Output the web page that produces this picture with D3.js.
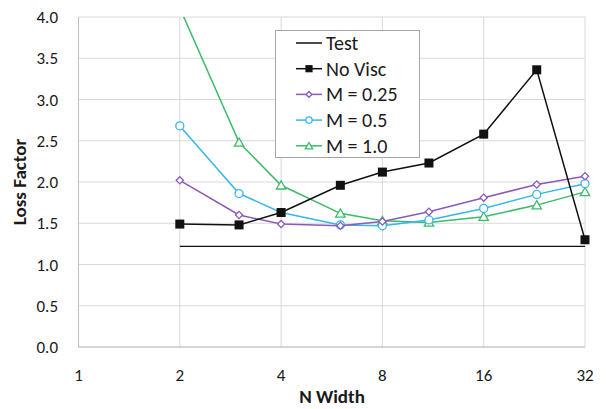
<!DOCTYPE html>
<html>
<head>
<meta charset="utf-8">
<script src="https://cdn.jsdelivr.net/npm/d3@7"></script>
<style>
  body { margin: 0; background: #fff; }
  svg text { font-family: Carlito, Lato, "Open Sans", sans-serif; fill: #1a1a1a; }
</style>
</head>
<body>
<div id="chart"></div>
<script>
// N width values where simulations were run
const nWidth = [2, 3, 4, 6, 8, 11, 16, 23, 32];
const testVal = [1.22, 1.22];
const testX = [2, 32];
const noVisc = [1.49, 1.48, 1.63, 1.96, 2.12, 2.23, 2.58, 3.36, 1.30];
const m025 = [2.02, 1.60, 1.49, 1.47, 1.52, 1.64, 1.81, 1.97, 2.07];
const m05 = [2.68, 1.86, 1.63, 1.48, 1.47, 1.54, 1.68, 1.85, 1.98];
const m10 = [4.11, 2.48, 1.96, 1.62, 1.53, 1.51, 1.58, 1.72, 1.88];
const xTicks = [1, 2, 4, 8, 16, 32];
const yTicks = [0, 0.5, 1, 1.5, 2, 2.5, 3, 3.5, 4];

const width = 606, height = 409;
const margin = { top: 17, right: 21, bottom: 62, left: 78.5 };

const svg = d3.select("#chart").append("svg")
    .attr("width", width)
    .attr("height", height);

const x = d3.scaleLog().base(2).domain([1, 32]).range([margin.left, width - margin.right]);
const y = d3.scaleLinear().domain([0, 4]).range([height - margin.bottom, margin.top]);

// grid
svg.append("g").selectAll("line").data(yTicks).enter().append("line")
    .attr("x1", x(1)).attr("x2", x(32))
    .attr("y1", d => y(d)).attr("y2", d => y(d))
    .attr("stroke", "#d9d9d9").attr("stroke-width", 1);
svg.append("g").selectAll("line").data(xTicks).enter().append("line")
    .attr("x1", d => x(d)).attr("x2", d => x(d))
    .attr("y1", y(0)).attr("y2", y(4))
    .attr("stroke", "#d9d9d9").attr("stroke-width", 1);

// axes lines
svg.append("line").attr("x1", x(1)).attr("x2", x(1)).attr("y1", y(0)).attr("y2", y(4))
    .attr("stroke", "#bfbfbf");
svg.append("line").attr("x1", x(1)).attr("x2", x(32)).attr("y1", y(0)).attr("y2", y(0))
    .attr("stroke", "#bfbfbf");

// tick labels
svg.append("g").selectAll("text").data(yTicks).enter().append("text")
    .attr("x", 58).attr("y", d => y(d) + 6)
    .attr("text-anchor", "end")
    .style("font-size", "17px")
    .text(d => d.toFixed(1));
svg.append("g").selectAll("text").data(xTicks).enter().append("text")
    .attr("x", d => x(d)).attr("y", 381)
    .attr("text-anchor", "middle")
    .style("font-size", "17px")
    .text(d => d);

// axis titles
svg.append("text")
    .attr("transform", "translate(26," + ((y(0) + y(4)) / 2) + ")rotate(-90)")
    .attr("text-anchor", "middle")
    .style("font-size", "19px").style("font-weight", "bold")
    .text("Loss Factor");
svg.append("text")
    .attr("x", 332).attr("y", 403)
    .attr("text-anchor", "middle")
    .style("font-size", "19px").style("font-weight", "bold")
    .text("N Width");

// clip to plot area
svg.append("clipPath").attr("id", "clip").append("rect")
    .attr("x", x(1) - 10).attr("y", y(4))
    .attr("width", x(32) - x(1) + 20).attr("height", y(0) - y(4) + 10);

const plot = svg.append("g").attr("clip-path", "url(#clip)");
const line = d3.line().x(d => x(d[0])).y(d => y(d[1]));

const series = [
    { name: "M = 1.0", vals: m10, color: "#3dba6b", marker: "triangle" },
    { name: "M = 0.5", vals: m05, color: "#38b6ea", marker: "circle" },
    { name: "M = 0.25", vals: m025, color: "#8c5ab8", marker: "diamond" },
    { name: "No Visc", vals: noVisc, color: "#111111", marker: "square" }
];

// Test line
plot.append("path")
    .datum(testX.map((d, i) => [d, testVal[i]]))
    .attr("d", line)
    .attr("fill", "none").attr("stroke", "#111").attr("stroke-width", 1.3);

function drawMarker(g, type, cx, cy, color, s) {
    s = s || 1;
    if (type === "square") {
        g.append("rect").attr("x", cx - 4.5 * s).attr("y", cy - 4.5 * s)
            .attr("width", 9 * s).attr("height", 9 * s).attr("fill", color);
    } else if (type === "circle") {
        g.append("circle").attr("cx", cx).attr("cy", cy).attr("r", 4 * s)
            .attr("fill", "#fff").attr("stroke", color).attr("stroke-width", 1.3);
    } else if (type === "diamond") {
        g.append("path").attr("d", d3.symbol().type(d3.symbolSquare).size(26 * s * s)())
            .attr("transform", "translate(" + cx + "," + cy + ")rotate(45)")
            .attr("fill", "#fff").attr("stroke", color).attr("stroke-width", 1.3);
    } else {
        g.append("path").attr("d", d3.symbol().type(d3.symbolTriangle).size(38 * s * s)())
            .attr("transform", "translate(" + cx + "," + (cy + 1) + ")")
            .attr("fill", "#fff").attr("stroke", color).attr("stroke-width", 1.3);
    }
}

series.forEach(s => {
    const pts = nWidth.map((d, i) => [d, s.vals[i]]);
    plot.append("path").datum(pts).attr("d", line)
        .attr("fill", "none").attr("stroke", s.color).attr("stroke-width", 1.5);
    const mg = plot.append("g");
    pts.forEach(p => {
        if (p[1] <= 4) drawMarker(mg, s.marker, x(p[0]), y(p[1]), s.color);
    });
});

// legend
const legendItems = [
    { name: "Test", color: "#111", marker: null },
    { name: "No Visc", color: "#111111", marker: "square" },
    { name: "M = 0.25", color: "#8c5ab8", marker: "diamond" },
    { name: "M = 0.5", color: "#38b6ea", marker: "circle" },
    { name: "M = 1.0", color: "#3dba6b", marker: "triangle" }
];
const lg = svg.append("g");
lg.append("rect").attr("x", 275.5).attr("y", 30.5).attr("width", 144).attr("height", 127)
    .attr("fill", "#fff").attr("stroke", "#a6a6a6").attr("stroke-width", 1);
legendItems.forEach((d, i) => {
    const ly = 43 + i * 25.7;
    lg.append("line").attr("x1", 296).attr("x2", 322).attr("y1", ly).attr("y2", ly)
        .attr("stroke", d.color).attr("stroke-width", 1.5);
    if (d.marker) drawMarker(lg, d.marker, 309, ly, d.color, 0.8);
    lg.append("text").attr("x", 326).attr("y", ly + 7)
        .style("font-size", "20px")
        .text(d.name);
});
</script>
</body>
</html>
